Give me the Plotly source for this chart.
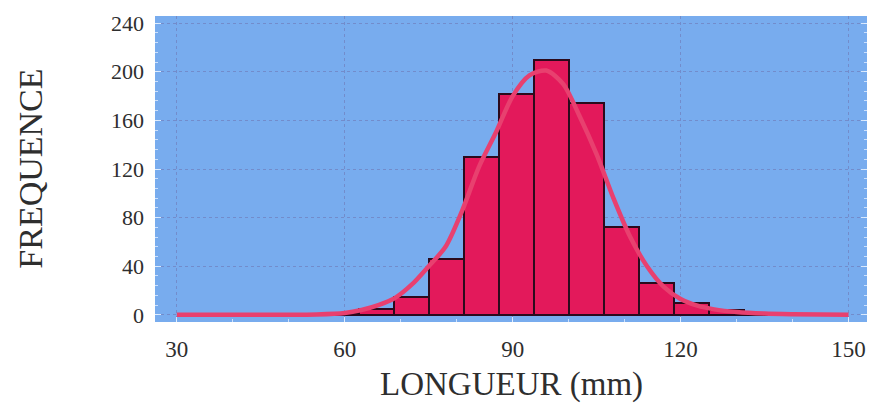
import plotly.graph_objects as go

# Histogram of lengths (class width 6.25 mm)
bin_centers = [59.375, 65.625, 71.875, 78.125, 84.375, 90.625, 96.875,
               103.125, 109.375, 115.625, 121.875, 128.125, 134.375]
frequencies = [1, 5, 15, 46, 130, 182, 210, 174, 72, 26, 10, 4, 1]
bin_width = 6.25

# Fitted curve drawn over the histogram
curve_x = [30, 40, 50, 55, 60, 63, 66, 69, 72, 75, 78, 81, 84, 87, 90, 93, 96,
           99, 102, 105, 108, 111, 114, 117, 120, 123, 126, 130, 135, 140, 150]
curve_y = [0, 0, 0, 0.3, 1.5, 4, 8, 14, 25, 40, 56, 86, 122, 150, 180, 197, 201,
           190, 163, 132, 96, 64, 40, 23, 13, 7.5, 4.5, 2.3, 1, 0.5, 0]

x_ticks = [30, 60, 90, 120, 150]
y_ticks = [0, 40, 80, 120, 160, 200, 240]

BLUE = "rgb(120,172,238)"
BAR = "#E3195B"
CURVE = "#E8406F"
SERIF = "Liberation Serif, Times New Roman, serif"
TEXT = "#2E2E2E"
GRID = "rgba(110,115,175,0.55)"

fig = go.Figure()
fig.add_trace(go.Bar(
    x=bin_centers, y=frequencies, width=bin_width,
    marker=dict(color=BAR, line=dict(color="#2B0A1C", width=2)),
    showlegend=False,
))
fig.add_trace(go.Scatter(
    x=curve_x, y=curve_y, mode="lines",
    line=dict(color=CURVE, width=4.5, shape="spline", smoothing=0.8),
    showlegend=False,
))

fig.update_layout(
    width=870, height=404,
    margin=dict(l=155, r=3, t=16, b=82),
    paper_bgcolor="white",
    plot_bgcolor=BLUE,
    bargap=0,
    font=dict(family=SERIF, color=TEXT),
    xaxis=dict(
        range=[26.1, 153.3], tickvals=x_ticks, ticktext=[str(v) for v in x_ticks],
        showgrid=True, gridcolor=GRID, gridwidth=1, griddash="dot",
        zeroline=False, showline=False,
        ticks="inside", ticklen=5, tickcolor="rgba(225,238,255,0.9)",
        minor=dict(dtick=10, ticks="inside", ticklen=3, tickcolor="rgba(225,238,255,0.8)", showgrid=False),
        tickfont=dict(size=23, family=SERIF, color=TEXT),
        ticklabelstandoff=11,
    ),
    yaxis=dict(
        range=[-5.9, 245.9], tickvals=y_ticks, ticktext=[str(v) for v in y_ticks],
        showgrid=True, gridcolor=GRID, gridwidth=1, griddash="dot",
        zeroline=False, showline=False, mirror="ticks",
        ticks="inside", ticklen=6, tickcolor="rgba(225,238,255,0.9)",
        minor=dict(dtick=8, ticks="inside", ticklen=3, tickcolor="rgba(225,238,255,0.8)", showgrid=False),
        tickfont=dict(size=22, family=SERIF, color=TEXT),
        ticklabelstandoff=10,
    ),
    annotations=[
        dict(text="LONGUEUR (mm)", xref="paper", yref="paper", x=0.5, y=-0.203,
             xanchor="center", yanchor="middle", showarrow=False,
             font=dict(size=33, family=SERIF, color=TEXT)),
        dict(text="FREQUENCE", xref="paper", yref="paper", x=-0.176, y=0.5,
             xanchor="center", yanchor="middle", showarrow=False, textangle=-90,
             font=dict(size=34, family=SERIF, color=TEXT)),
    ],
)

fig.write_html("out.html")
